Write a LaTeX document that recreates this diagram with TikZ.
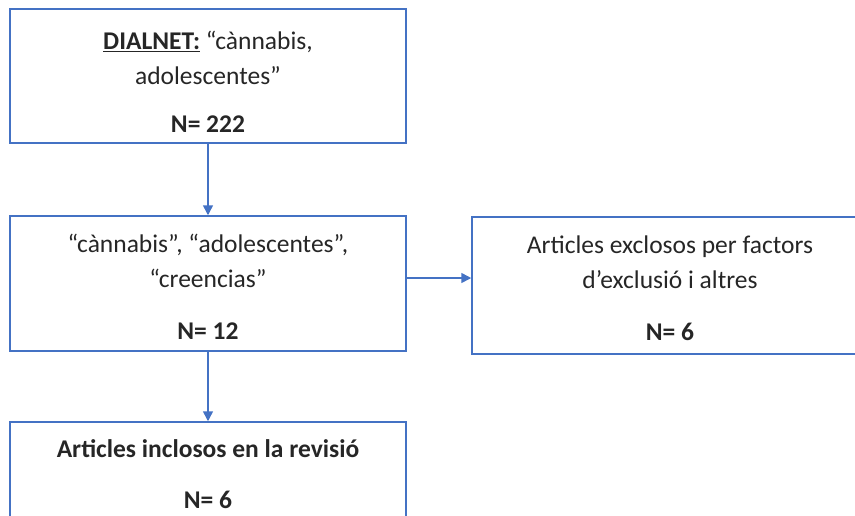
\documentclass[tikz,border=0pt]{standalone}
\usepackage{fontspec}
\setmainfont{Carlito}
\usetikzlibrary{arrows.meta}
\definecolor{boxblue}{HTML}{4472C4}
\definecolor{textgray}{HTML}{262626}
\tikzstyle{stage}=[draw=boxblue, line width=1.5pt, minimum width=396pt, minimum height=135pt,
                   inner sep=0, align=center, text=textgray,
                   % Text of the boxes.
                   font=\fontsize{25.5}{35}\selectfont]
\tikzstyle{flow}=[draw=boxblue, line width=1.5pt, -{Triangle[length=10pt, width=10pt]}]

\begin{document}
\begin{tikzpicture}[x=1pt, y=-1pt]
        \useasboundingbox (0, 0) rectangle (855, 515);
        \node[stage, minimum height=134pt] (search) at (208, 76)
            {\rule{0pt}{30pt}\textbf{\underline{DIALNET:}} “cànnabis,\\ adolescentes”\\[13pt] \textbf{N= 222}};
        \node[stage] (filter) at (208, 283.5)
            {\rule{0pt}{25pt}“cànnabis”, “adolescentes”,\\ “creencias”\\[17pt] \textbf{N= 12}};
        \node[stage, minimum height=137pt] (excluded) at (670, 285.5)
            {\rule{0pt}{24pt}Articles exclosos per factors\\ d’exclusió i altres\\[17pt] \textbf{N= 6}};
        \node[stage] (included) at (208, 489.5)
            {\rule{0pt}{21pt}\textbf{Articles inclosos en la revisió}\\[16pt] \textbf{N= 6}\\[0pt]};
        \draw[flow] (search) -- (filter);
        \draw[flow] (filter) -- (included);
        \draw[flow] ([yshift=5.5pt]filter.east) -- ([yshift=5.5pt]filter.east -| excluded.west);
    \end{tikzpicture}
\end{document}
